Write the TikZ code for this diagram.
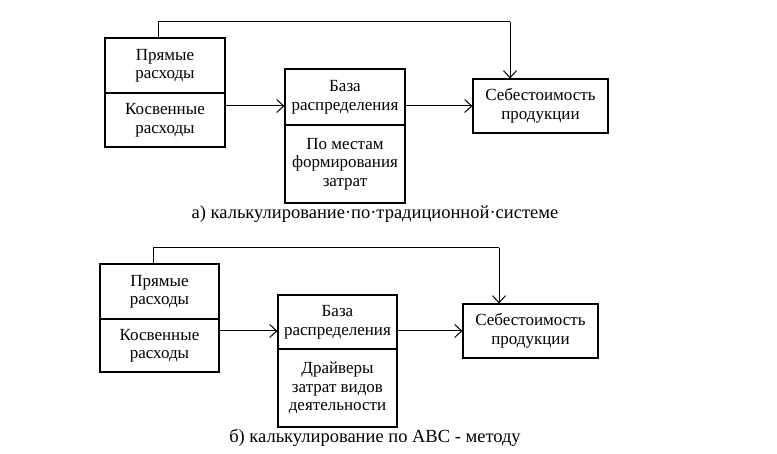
\documentclass[tikz,border=0pt]{standalone}
\usepackage{fontspec}
\setmainfont{Liberation Serif}
\usepackage{tikz}
\usetikzlibrary{arrows.meta, positioning}
\tikzstyle{box} = [rectangle, draw, line width=1.2pt, align=center, inner sep=0pt, minimum width=120pt, font=\fontsize{17}{18.5}\selectfont]
\tikzstyle{captxt} = [font=\fontsize{18.5}{20}\selectfont]
\tikzstyle{line} = [draw, line width=1pt, -{Straight Barb[length=7pt, width=13pt, line width=1pt]}]
\tikzstyle{plain} = [draw, line width=1pt]

\begin{document}
\begin{tikzpicture}[x=1pt, y=-1pt]
			\useasboundingbox (0,0) rectangle (777,454);
			% a) traditional system
			\node [box, minimum height=55pt] (pr1) at (165, 65.5) {Прямые\\расходы};
			\node [box, minimum height=54pt] (ks1) at (165, 120) {Косвенные\\расходы};
			\node [box, minimum height=56pt] (bz1) at (345, 97) {База\\распределения};
			\node [box, minimum height=78pt] (pm1) at (345, 164) {По местам\\формирования\\затрат};
			\node [box, minimum width=135pt, minimum height=54pt] (sb1) at (540.5, 106) {Себестоимость\\продукции};
			\node [captxt] (cap1) at (375, 214) {а) калькулирование·по·традиционной·системе};
			\coordinate (fa1) at (158, 22);
			\coordinate (fb1) at (510, 22);

			\path [line] (ks1.east |- sb1.west) -- (bz1.west |- sb1.west);
			\path [line] (bz1.east |- sb1.west) -- (sb1.west);
			\path [plain] (pr1.north -| fa1) -- (fa1) -- (fb1);
			\path [line] (fb1) -- (sb1.north -| fb1);

			% b) ABC method
			\node [box, minimum width=119pt, minimum height=55pt] (pr2) at (159.5, 291.5) {Прямые\\расходы};
			\node [box, minimum width=119pt, minimum height=53pt] (ks2) at (159.5, 345.5) {Косвенные\\расходы};
			\node [box, minimum width=119pt, minimum height=54pt] (bz2) at (337.5, 322) {База\\распределения};
			\node [box, minimum width=119pt, minimum height=78pt] (dr2) at (337.5, 388) {Драйверы\\затрат видов\\деятельности};
			\node [box, minimum width=135pt, minimum height=54pt] (sb2) at (530.5, 331) {Себестоимость\\продукции};
			\node [captxt] (cap2) at (375, 438) {б) калькулирование по АВС - методу};
			\coordinate (fa2) at (153, 248);
			\coordinate (fb2) at (499, 248);

			\path [line] (ks2.east |- sb2.west) -- (bz2.west |- sb2.west);
			\path [line] (bz2.east |- sb2.west) -- (sb2.west);
			\path [plain] (pr2.north -| fa2) -- (fa2) -- (fb2);
			\path [line] (fb2) -- (sb2.north -| fb2);
		\end{tikzpicture}
\end{document}
